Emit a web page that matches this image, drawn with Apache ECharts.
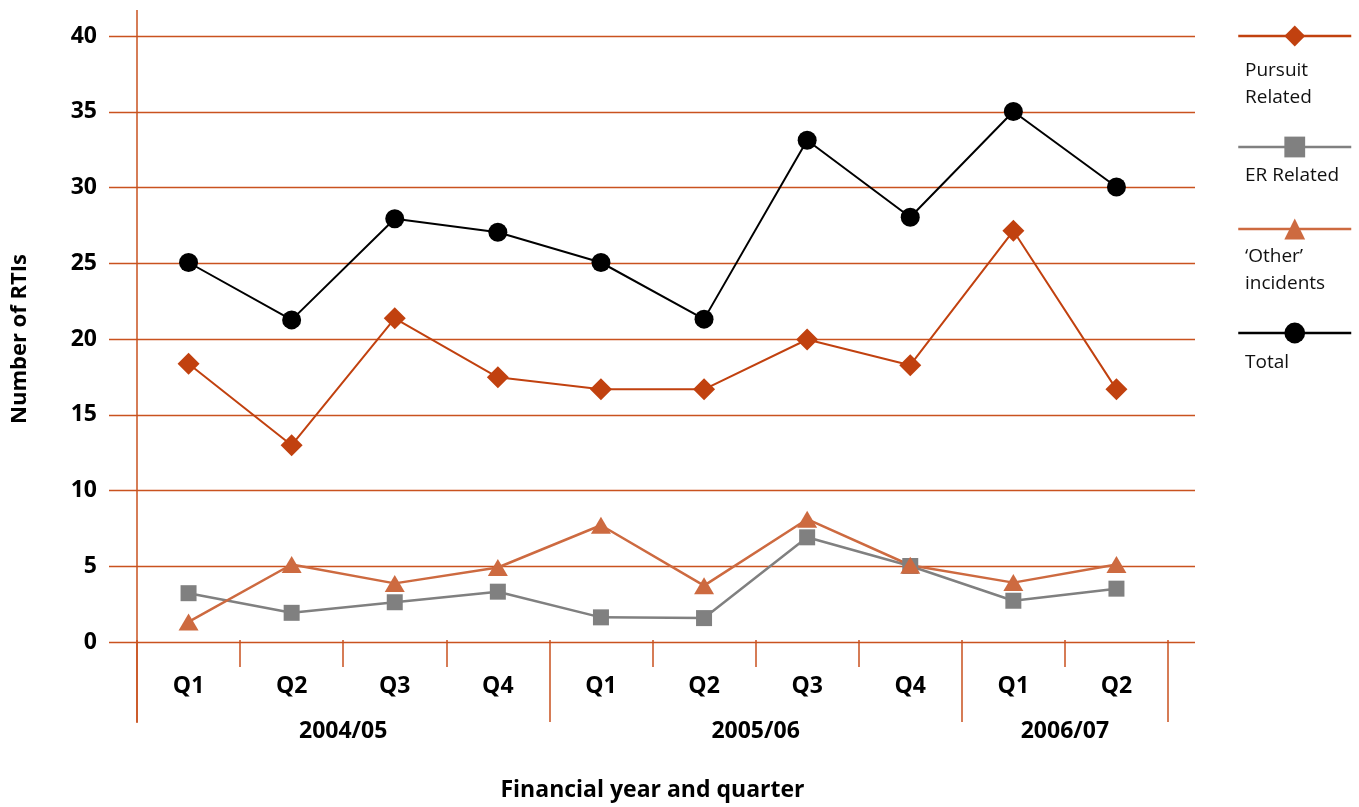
<!DOCTYPE html>
<html>
<head>
<meta charset="utf-8">
<script src="https://cdn.jsdelivr.net/npm/echarts@6/dist/echarts.min.js"></script>
<style>
  html, body { margin: 0; padding: 0; background: #fff; }
  #chart { width: 1359px; height: 807px; }
</style>
</head>
<body>
<div id="chart"></div>
<script>
// quarters and financial years
const quarters = ['Q1', 'Q2', 'Q3', 'Q4', 'Q1', 'Q2', 'Q3', 'Q4', 'Q1', 'Q2']
const years = ['2004/05', '2005/06', '2006/07']
const yearSpans = [4, 4, 2]

// series values
const pursuit = [18.3, 12.9, 21.3, 17.4, 16.6, 16.6, 19.9, 18.2, 27.1, 16.6]
const erRelated = [3.1, 1.8, 2.5, 3.2, 1.5, 1.45, 6.8, 4.9, 2.6, 3.4]
const other = [1.2, 5.0, 3.75, 4.8, 7.6, 3.6, 8.0, 4.95, 3.8, 5.0]
const total = [25, 21.2, 27.9, 27, 25, 21.25, 33.1, 28, 35, 30]

const seriesNames = ['Pursuit Related', 'ER Related', '\u2018Other\u2019 incidents', 'Total']
const legendLabels = ['Pursuit\nRelated', 'ER Related', '\u2018Other\u2019\nincidents', 'Total']

const axisColor = '#c9521f'
const font = 'Open Sans'

// year boundaries and centres on a 0..10 scale
let bounds = [0]
let centres = []
let acc = 0
for (let i = 0; i < yearSpans.length; i++) {
  centres.push(acc + yearSpans[i] / 2)
  acc += yearSpans[i]
  bounds.push(acc)
}

const my_echart = echarts.init(document.getElementById('chart'), null, {renderer: 'canvas'})

const legendIconH = 26
const legendMid = [36, 147, 229, 333]
const labelTops = [57, 162, 243, 349]

my_echart.setOption({
  animation: false,
  grid: [
    // wide grid only for the horizontal grid lines and y labels
    {left: 109, right: 164, top: 36, bottom: 165},
    // data grid
    {left: 137, right: 191, top: 36, bottom: 165}
  ],
  legend: seriesNames.map((n, i) => ({
    data: [n],
    left: 1237,
    top: legendMid[i] - legendIconH / 2,
    padding: 0,
    itemWidth: 113,
    itemHeight: legendIconH,
    lineStyle: {width: 2.5},
    formatter: () => '',
    selectedMode: false
  })),
  xAxis: [
    {gridIndex: 0, type: 'value', show: false, min: 0, max: 1},
    {
      gridIndex: 1,
      type: 'category',
      data: quarters,
      boundaryGap: true,
      axisLine: {show: false},
      axisTick: {show: true, length: 27, lineStyle: {color: axisColor, width: 1.5}},
      axisLabel: {
        margin: 35, fontSize: 23, fontWeight: 'bold', color: '#000', fontFamily: font,
        interval: 0
      }
    },
    {
      gridIndex: 1,
      type: 'value',
      min: 0,
      max: 10,
      position: 'bottom',
      axisLine: {show: false},
      splitLine: {show: false},
      axisTick: {show: true, length: 82, customValues: bounds, lineStyle: {color: axisColor, width: 1.5}},
      axisLabel: {
        customValues: centres,
        margin: 80,
        fontSize: 23, fontWeight: 'bold', color: '#000', fontFamily: font,
        formatter: (v) => years[centres.indexOf(v)]
      },
      name: 'Financial year and quarter',
      nameLocation: 'middle',
      nameGap: 139,
      nameTextStyle: {fontSize: 23, fontWeight: 'bold', color: '#000', fontFamily: font}
    }
  ],
  yAxis: [
    {
      gridIndex: 0,
      type: 'value',
      min: 0,
      max: 40,
      interval: 5,
      axisLine: {show: false},
      axisTick: {show: false},
      splitLine: {lineStyle: {color: axisColor, width: 1.3}},
      axisLabel: {margin: 12, fontSize: 23, fontWeight: 'bold', color: '#000', fontFamily: font},
      name: 'Number of RTIs',
      nameLocation: 'middle',
      nameRotate: 90,
      nameGap: 78,
      nameTextStyle: {fontSize: 22, fontWeight: 'bold', color: '#000', fontFamily: font}
    },
    {gridIndex: 1, type: 'value', min: 0, max: 40, show: false}
  ],
  graphic: [
    {
      type: 'line',
      shape: {x1: 137, y1: 10, x2: 137, y2: 723},
      style: {stroke: axisColor, lineWidth: 1.5},
      z: 10
    }
  ].concat(legendLabels.map((t, i) => ({
    type: 'text',
    left: 1245,
    top: labelTops[i],
    style: {text: t, fontSize: 19, lineHeight: 27, fill: '#111', fontFamily: font, fontWeight: 500}
  }))),
  series: [
    {
      name: seriesNames[0], type: 'line', xAxisIndex: 1, yAxisIndex: 1,
      data: pursuit, symbol: 'diamond', symbolSize: [22, 22],
      lineStyle: {color: '#c1410f', width: 2}, itemStyle: {color: '#c1410f'}
    },
    {
      name: seriesNames[1], type: 'line', xAxisIndex: 1, yAxisIndex: 1,
      data: erRelated, symbol: 'rect', symbolSize: 16,
      lineStyle: {color: '#808080', width: 2.5}, itemStyle: {color: '#808080'}
    },
    {
      name: seriesNames[2], type: 'line', xAxisIndex: 1, yAxisIndex: 1,
      data: other, symbol: 'triangle', symbolSize: [20, 17],
      lineStyle: {color: '#cd6a40', width: 2.5}, itemStyle: {color: '#cd6a40'}
    },
    {
      name: seriesNames[3], type: 'line', xAxisIndex: 1, yAxisIndex: 1,
      data: total, symbol: 'circle', symbolSize: 19,
      lineStyle: {color: '#000', width: 2}, itemStyle: {color: '#000'}
    }
  ]
})
</script>
</body>
</html>
